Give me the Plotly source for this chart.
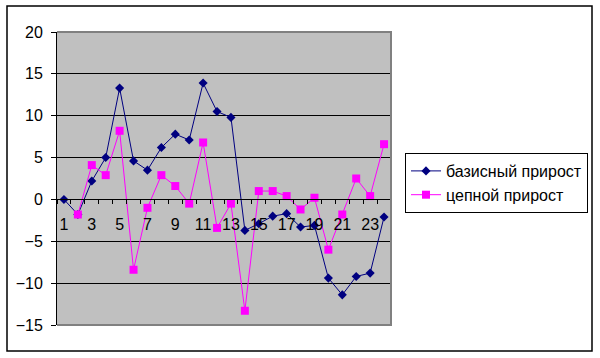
import plotly.graph_objects as go

categories = list(range(1, 25))
basis_growth = [0, -1.8, 2.2, 5.0, 13.3, 4.6, 3.5, 6.2, 7.8, 7.1, 13.9, 10.5,
                9.8, -3.7, -2.9, -2.0, -1.7, -3.3, -3.1, -9.4, -11.4, -9.2, -8.8, -2.1]
chain_growth = [None, -1.8, 4.1, 2.9, 8.2, -8.4, -1.0, 2.9, 1.6, -0.5, 6.8, -3.4,
                -0.5, -13.3, 1.0, 1.0, 0.4, -1.2, 0.2, -6.0, -1.8, 2.5, 0.4, 6.6]
x_tick_labels = [str(c) for c in categories if c % 2 == 1]
y_ticks = [-15, -10, -5, 0, 5, 10, 15, 20]

FONT = "Liberation Sans, Arial, sans-serif"
y_min, y_max = -15, 20
zero_pos = (0 - y_min) / (y_max - y_min)

fig = go.Figure()
fig.add_trace(go.Scatter(
    x=categories, y=basis_growth, mode="lines+markers", name="базисный прирост",
    line=dict(color="#000080", width=1),
    marker=dict(symbol="diamond", size=7, color="#000080"),
))
fig.add_trace(go.Scatter(
    x=categories, y=chain_growth, mode="lines+markers", name="цепной прирост",
    line=dict(color="#FF00FF", width=1),
    marker=dict(symbol="square", size=8, color="#FF00FF"),
))

L, R, T, B = 57, 391, 32, 325
W, H = 600, 358
pw, ph = R - L, B - T

fig.update_layout(
    width=W, height=H,
    margin=dict(l=L, r=W - R, t=T, b=H - B, pad=0, autoexpand=False),
    paper_bgcolor="white", plot_bgcolor="#C0C0C0",
    font=dict(family=FONT, size=16, color="black"),
    showlegend=True,
    legend=dict(
        x=(405 - L) / pw, y=(B - 153) / ph, xanchor="left", yanchor="top",
        bgcolor="white", bordercolor="black", borderwidth=1,
        font=dict(family=FONT, size=16, color="black"),
        itemwidth=30,
    ),
    xaxis=dict(
        range=[0.5, 24.5], anchor="free", position=zero_pos,
        tickmode="array", tickvals=[c for c in categories if c % 2 == 1],
        ticktext=x_tick_labels, ticks="", showline=True, linecolor="black",
        linewidth=1, showgrid=False, zeroline=False, ticklabelstandoff=10,
        tickfont=dict(family=FONT, size=16, color="black"),
    ),
    xaxis2=dict(
        range=[0.5, 24.5], overlaying="x", anchor="free", position=zero_pos,
        tickmode="array", tickvals=[c + 0.5 for c in [0] + categories],
        ticks="outside", ticklen=4, tickcolor="black", tickwidth=1,
        showticklabels=False, showline=False, showgrid=False, zeroline=False,
    ),
    yaxis=dict(
        range=[y_min, y_max], tickmode="array", tickvals=y_ticks,
        ticks="outside", ticklen=5, tickcolor="black", showline=True,
        linecolor="black", linewidth=1, showgrid=True, gridcolor="black",
        gridwidth=1, zeroline=True, zerolinecolor="black", zerolinewidth=1,
        ticklabelstandoff=5,
        tickfont=dict(family=FONT, size=16, color="black"),
    ),
    shapes=[
        dict(type="path", xref="paper", yref="paper",
             path="M 0,1 L 1,1 L 1,0 L 0,0",
             line=dict(color="#808080", width=2), layer="above"),
        dict(type="rect", xref="paper", yref="paper",
             x0=(7 - L) / pw, x1=(592 - L) / pw,
             y0=(B - 351) / ph, y1=(B - 6) / ph,
             line=dict(color="black", width=1.5), layer="below"),
    ],
)
# dummy trace to activate xaxis2
fig.add_trace(go.Scatter(x=[None], y=[None], xaxis="x2", showlegend=False, hoverinfo="skip"))

fig.write_html("out.html", config={"displayModeBar": False},
               post_script="document.body.style.margin='0';")
